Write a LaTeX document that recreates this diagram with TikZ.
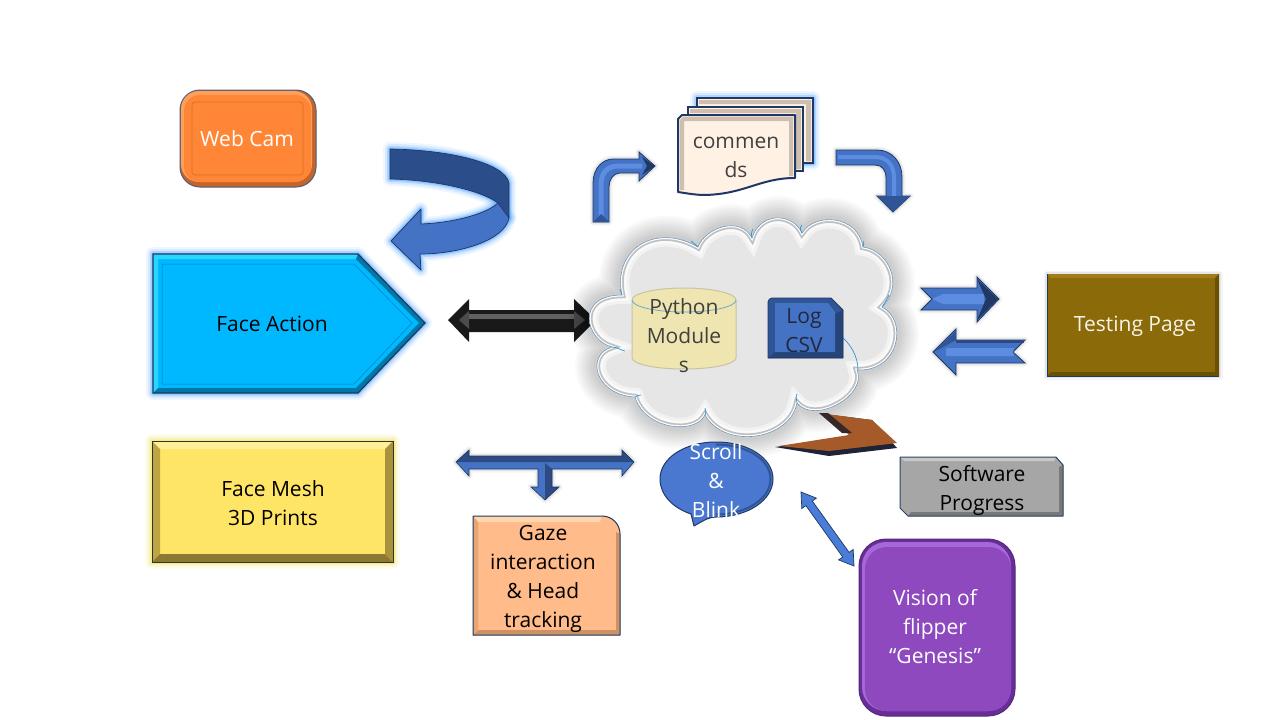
\documentclass[tikz,border=0pt]{standalone}
\usepackage{fontspec}
\setmainfont{Open Sans}
\definecolor{navy}{HTML}{1F3864}
\definecolor{blueA}{HTML}{4472C4}
\definecolor{blueD}{HTML}{2F5597}
\definecolor{blueL}{HTML}{5C8DE0}
\definecolor{ink}{HTML}{404040}
\definecolor{markblue}{HTML}{2E95D8}
\definecolor{camD}{RGB}{196,100,40}\definecolor{camL}{RGB}{255,160,90}\definecolor{camM}{RGB}{255,134,54}\definecolor{camE}{RGB}{215,112,42}
\definecolor{faceM}{RGB}{0,184,255}\definecolor{faceL}{RGB}{40,215,255}\definecolor{faceD}{RGB}{0,120,165}\definecolor{faceE}{RGB}{0,130,180}\definecolor{glowB}{RGB}{90,170,255}
\definecolor{docF}{RGB}{255,242,228}\definecolor{docB}{RGB}{205,190,175}
\definecolor{cloudM}{RGB}{230,230,230}\definecolor{cloudE}{RGB}{110,150,185}
\definecolor{cylF}{RGB}{238,229,176}\definecolor{cylE}{RGB}{200,195,165}
\definecolor{logD}{RGB}{38,68,120}\definecolor{logT}{RGB}{35,40,60}
\definecolor{testM}{RGB}{139,106,10}\definecolor{testL}{RGB}{160,125,25}\definecolor{testD}{RGB}{105,80,5}\definecolor{testT}{RGB}{248,244,230}
\definecolor{meshM}{RGB}{255,229,102}\definecolor{meshL}{RGB}{255,240,150}\definecolor{meshS}{RGB}{190,165,65}\definecolor{meshR}{RGB}{170,145,60}\definecolor{meshB}{RGB}{140,120,50}\definecolor{glowY}{RGB}{240,230,90}
\definecolor{tdark}{RGB}{45,75,130}
\definecolor{gazeM}{RGB}{255,187,138}\definecolor{gazeL}{RGB}{255,215,175}\definecolor{gazeD}{RGB}{205,145,100}\definecolor{gazeS}{RGB}{230,165,115}
\definecolor{bubble}{RGB}{74,120,208}
\definecolor{brownM}{RGB}{166,90,42}\definecolor{brownK}{RGB}{30,35,55}\definecolor{brownE}{RGB}{55,40,40}
\definecolor{softM}{RGB}{166,166,166}\definecolor{softL}{RGB}{200,200,200}\definecolor{softD}{RGB}{120,120,120}\definecolor{softE}{RGB}{45,65,105}
\definecolor{visD}{RGB}{105,45,150}\definecolor{visE}{RGB}{85,40,130}\definecolor{visL}{RGB}{165,105,215}\definecolor{visM}{RGB}{142,73,190}
\definecolor{diagM}{RGB}{74,125,215}
\tikzset{
  glow/.style={preaction={draw=#1,line width=14pt,opacity=.10,line join=round},
               preaction={draw=#1,line width=10pt,opacity=.16,line join=round},
               preaction={draw=#1,line width=6pt,opacity=.30,line join=round},
               preaction={draw=#1,line width=3pt,opacity=.40,line join=round}},
  softshadow/.style={preaction={draw=black,line width=7pt,opacity=.04,line join=round},
               preaction={draw=black,line width=4pt,opacity=.06,line join=round}},
  lbl/.style={inner sep=0pt,align=center,font=\fontsize{21}{29}\selectfont},
  tick/.style={draw=markblue,line width=.7pt},
  arrowblue/.style={fill=blueA,draw=navy,line width=.8pt,line join=miter}
}
\def\cloudpath{(622,295) .. controls (612,250) and (655,222) .. (698,247)
 .. controls (705,228) and (740,215) .. (752,238)
 .. controls (760,212) and (792,212) .. (802,233)
 .. controls (815,212) and (858,215) .. (863,247)
 .. controls (888,250) and (905,285) .. (882,307)
 .. controls (908,320) and (900,372) .. (857,370)
 .. controls (868,395) and (815,425) .. (797,403)
 .. controls (790,440) and (725,450) .. (705,415)
 .. controls (695,435) and (645,430) .. (635,397)
 .. controls (595,395) and (585,355) .. (612,347)
 .. controls (585,340) and (575,295) .. (622,295) -- cycle}
\begin{document}
\begin{tikzpicture}[x=1pt,y=-1pt]
\useasboundingbox (0,0) rectangle (1280,720);
\fill[white] (0,0) rectangle (1280,720);

% Web Cam
\draw[draw=navy!80,line width=1pt,fill=camD,rounded corners=20pt] (180,90) rectangle (316,187);
\fill[camL,rounded corners=18pt] (181,91) rectangle (312,182);
\fill[camM,rounded corners=16pt] (184,95) rectangle (311,182);
\draw[camE,line width=.7pt,rounded corners=3pt] (192,102) rectangle (303,175);
\node[lbl,text=white] (webcam) at (247,139) {Web Cam};

% Face Action
\path[glow=glowB,fill=faceM] (153,254) -- (358,254) -- (425,323) -- (358,393) -- (153,393) -- cycle;
\fill[faceL] (153,254) -- (358,254) -- (356,259) -- (158,259) -- (158,389) -- (153,393) -- cycle;
\fill[faceD] (358,254) -- (425,323) -- (419,323) -- (356,259) -- cycle;
\fill[faceD] (425,323) -- (358,393) -- (153,393) -- (158,388) -- (356,388) -- (419,323) -- cycle;
\draw[navy,line width=1.2pt,line join=miter] (153,254) -- (358,254) -- (425,323) -- (358,393) -- (153,393) -- cycle;
\draw[faceE,line width=.5pt] (162,384) -- (162,264) -- (354,264) -- (412,323) -- (354,384) -- cycle;
\node[lbl,text=black] (faceaction) at (272,324) {Face Action};

% Curved arrow
\path[glow=glowB,fill=blueA] (509,218) .. controls (505,240) and (460,254) .. (420,254) -- (421,270) -- (391,241) -- (421,209) -- (421,224) .. controls (450,223) and (485,215) .. (498,203) -- cycle;
\path[glow=glowB,fill=blueD!92!black] (390,149) .. controls (450,150) and (505,163) .. (509,183) -- (509,218) -- (498,203) .. controls (480,190) and (435,180) .. (390,179) -- cycle;
\fill[blueA] (509,218) .. controls (505,240) and (460,254) .. (420,254) -- (421,270) -- (391,241) -- (421,209) -- (421,224) .. controls (450,223) and (485,215) .. (498,203) -- cycle;
\draw[navy,line width=.7pt,line join=round] (509,218) .. controls (505,240) and (460,254) .. (420,254) -- (421,270) -- (391,241) -- (421,209) -- (421,224) .. controls (450,223) and (485,215) .. (498,203);
\draw[navy,line width=.7pt,line join=round] (498,203) .. controls (480,190) and (435,180) .. (390,179) -- (390,149) .. controls (450,150) and (505,163) .. (509,183) -- (509,218) -- (498,203);

% Double black arrow
\fill[black!90] (448,320) -- (469,299) -- (469,310) -- (574,310) -- (574,299) -- (596,320) -- (574,342) -- (574,332) -- (469,332) -- (469,342) -- cycle;
\fill[black!62] (469,314) rectangle (574,319);
\fill[black!70] (459,320) -- (469,311) -- (469,329) -- cycle;
\fill[black!70] (585,320) -- (574,311) -- (574,329) -- cycle;

% Bent arrow up-right
\path[softshadow,arrowblue] (593,222) -- (593,183) .. controls (593,168) and (603,159) .. (613,159) -- (639,159) -- (639,152) -- (655,166) -- (639,181) -- (639,173) -- (620,173) .. controls (613,173) and (609,180) .. (609,187) -- (609,222) -- cycle;
\draw[blueL,line width=5pt] (601,220) -- (601,185) .. controls (601,172) and (608,166) .. (618,166) -- (642,166);
\fill[blueD] (593,222) -- (601,214) -- (609,222) -- cycle;
\fill[navy] (642,157) -- (655,166) -- (642,175) -- (647,166) -- cycle;

% Documents
\path[glow=glowB,fill=docF,draw=navy,line width=2pt] (697,98) -- (813,98) -- (813,163) -- (697,163) -- cycle;
\fill[docB] (699,100) -- (811,100) -- (806,104) -- (699,104) -- cycle;
\fill[docB] (811,100) -- (811,161) -- (806,161) -- (806,104) -- cycle;
\draw[fill=docF,draw=navy,line width=2pt] (688,107) -- (803,107) -- (803,171) -- (688,171) -- cycle;
\fill[docB] (690,109) -- (801,109) -- (796,113) -- (690,113) -- cycle;
\fill[docB] (801,109) -- (801,169) -- (796,169) -- (796,113) -- cycle;
\draw[fill=docF,draw=navy,line width=2pt,line join=round] (678,119) -- (682,115) -- (795,115) -- (795,178) .. controls (760,178) and (745,194) .. (705,195) .. controls (695,195) and (685,193) .. (678,192) -- cycle;
\fill[docB] (683,117) -- (680,120) -- (680,190) -- (684,190) -- (684,121) -- (793,121) -- (793,117) -- cycle;
\fill[docB] (793,117) -- (793,176) -- (789,176) -- (789,121) -- cycle;
\node[lbl,text=ink] (comments) at (736,157) {commen\\ds};

% Bent arrow right-down
\path[softshadow,arrowblue] (836,150) -- (877,150) .. controls (892,150) and (902,162) .. (902,177) -- (902,196) -- (910,196) -- (893,212) -- (877,196) -- (886,196) -- (886,178) .. controls (886,170) and (882,165) .. (875,165) -- (836,165) -- cycle;
\draw[blueL,line width=4pt] (838,157) -- (875,157) .. controls (888,157) and (894,166) .. (894,178) -- (894,198);
\fill[blueD] (877,196) -- (910,196) -- (893,212) -- cycle;

% Cloud
\foreach \w in {44,40,36,32,28,24,20,16,12,8}{
  \draw[black,line width=\w pt,opacity=.018,line join=round] \cloudpath;
}
\fill[cloudM] \cloudpath;
\begin{scope}
  \clip \cloudpath;
  \draw[black!5,line width=18pt] \cloudpath;
  \draw[white!98!black,line width=12pt] \cloudpath;
  \draw[black!25,line width=6.5pt] \cloudpath;
  \draw[white,line width=3pt] \cloudpath;
\end{scope}
\draw[cloudE,line width=.6pt] \cloudpath;
\draw[tick] (698,247) .. controls (695,244) and (692,242) .. (691,241);
\draw[tick] (752,238) .. controls (751,235) and (751,233) .. (753,229);
\draw[tick] (802,233) .. controls (801,231) and (799,228) .. (802,225);
\draw[tick] (863,247) .. controls (864,245) and (864,243) .. (863,241);
\draw[tick] (882,307) .. controls (885,303) and (887,299) .. (889,295);
\draw[tick] (843,338) .. controls (851,345) and (858,357) .. (858,370);
\draw[tick] (797,403) .. controls (796,400) and (796,396) .. (797,394);
\draw[tick] (705,415) .. controls (707,412) and (705,410) .. (705,408);
\draw[tick] (635,397) .. controls (637,396) and (639,395) .. (641,395);
\draw[tick] (612,347) .. controls (616,347) and (621,350) .. (625,351);
\draw[tick] (622,295) .. controls (621,293) and (621,291) .. (620,289);

% Cylinder
\fill[cylF] (632,300) -- (632,358) arc[start angle=180,end angle=360,x radius=52,y radius=-11] -- (736,300) arc[start angle=0,end angle=180,x radius=52,y radius=-12] -- cycle;
\draw[cylE,line width=1pt] (632,300) -- (632,358) arc[start angle=180,end angle=360,x radius=52,y radius=-11] -- (736,300) arc[start angle=0,end angle=180,x radius=52,y radius=-12];
\draw[markblue!70!cylE,line width=.7pt] (632,300) arc[start angle=180,end angle=360,x radius=52,y radius=-12];
\node[lbl,text=ink] (python) at (684,335.5) {Python\\Module\\s};

% Log CSV
\fill[blueD] (768,302) .. controls (768,300) and (770,298) .. (772,298) -- (831,298) -- (843,310) -- (843,358) -- (768,358) -- cycle;
\fill[logD] (843,310) -- (843,358) -- (768,358) -- (775,352) -- (835,352) -- (835,314) -- cycle;
\fill[blueA] (775,303) -- (828,303) -- (835,312) -- (835,352) -- (775,352) -- cycle;
\draw[navy,line width=.8pt,line join=round] (768,302) .. controls (768,300) and (770,298) .. (772,298) -- (831,298) -- (843,310) -- (843,358) -- (768,358) -- cycle;
\node[lbl,text=logT] (logcsv) at (804,331) {Log\\CSV};

% Right block arrows
\path[softshadow,arrowblue] (921,288) -- (977,288) -- (977,277) -- (999,299) -- (977,322) -- (977,310) -- (921,310) -- (932,299) -- cycle;
\fill[blueL] (932,299) -- (943,294) -- (984,294) -- (984,304) -- (943,304) -- cycle;
\fill[navy] (977,279) -- (998,299) -- (977,320) -- (986,299) -- cycle;
\path[softshadow,arrowblue] (933,352) -- (956,329) -- (956,340) -- (1025,340) -- (1013,352) -- (1025,363) -- (956,363) -- (956,375) -- cycle;
\fill[blueL] (946,348) -- (1014,348) -- (1013,352) -- (1014,356) -- (946,356) -- cycle;
\fill[tdark] (956,340) rectangle (1024,343);
\fill[blueD] (934,352) -- (956,331) -- (956,340) -- cycle;

% Testing Page
\path[softshadow,fill=testM] (1047,274) rectangle (1219,376);
\fill[testL] (1047,274) -- (1219,274) -- (1215,278) -- (1051,278) -- cycle;
\fill[testD] (1219,274) -- (1219,376) -- (1047,376) -- (1051,372) -- (1215,372) -- (1215,278) -- cycle;
\draw[navy,line width=1pt] (1047,274) -- (1047,376) -- (1219,376);
\node[lbl,text=testT] (testing) at (1135,326) {Testing Page};

% Face Mesh
\path[glow=glowY,fill=meshM] (152,441) rectangle (393,562);
\fill[meshL] (152,441) -- (393,441) -- (385,449) -- (160,449) -- cycle;
\fill[meshS] (152,441) -- (160,449) -- (160,554) -- (152,562) -- cycle;
\fill[meshR] (393,441) -- (393,562) -- (385,554) -- (385,449) -- cycle;
\fill[meshB] (152,562) -- (160,554) -- (385,554) -- (393,562) -- cycle;
\draw[black!80,line width=1pt] (152,441) rectangle (393,562);
\node[lbl,text=black] (facemesh) at (273,503) {Face Mesh\\3D Prints};

% T arrow
\path[softshadow,fill=blueA] (456,462) -- (469,450) -- (469,456) -- (622,456) -- (622,450) -- (634,462) -- (622,476) -- (622,469) -- (552,469) -- (552,487) -- (559,487) -- (545,500) -- (531,487) -- (538,487) -- (538,469) -- (469,469) -- (469,476) -- cycle;
\fill[tdark] (456,462) -- (469,450) -- (469,456) -- (622,456) -- (622,450) -- (634,462) -- cycle;
\fill[tdark] (545,463) -- (552,469) -- (552,487) -- (559,487) -- (545,500) -- cycle;
\draw[navy,line width=.6pt,line join=miter] (456,462) -- (469,450) -- (469,456) -- (622,456) -- (622,450) -- (634,462) -- (622,476) -- (622,469) -- (552,469) -- (552,487) -- (559,487) -- (545,500) -- (531,487) -- (538,487) -- (538,469) -- (469,469) -- (469,476) -- cycle;

% Gaze
\fill[gazeM] (473,516) -- (602,516) .. controls (612,516) and (620,524) .. (620,534) -- (620,635) -- (473,635) -- cycle;
\fill[gazeL] (473,516) -- (602,516) -- (600,522) -- (478,522) -- cycle;
\fill[gazeD] (616,532) -- (620,534) -- (620,635) -- (473,635) -- (478,630) -- (616,630) -- cycle;
\fill[gazeS] (473,516) -- (478,522) -- (478,630) -- (473,635) -- cycle;
\draw[navy,line width=1pt,line join=round] (473,516) -- (602,516) .. controls (612,516) and (620,524) .. (620,534) -- (620,635) -- (473,635) -- cycle;
\node[lbl,text=black] (gaze) at (543,579) {Gaze\\interaction\\\& Head\\tracking};

% Scroll & Blink
\path[fill=bubble,draw=navy,line width=1pt,line join=round] (716,442) .. controls (748,442) and (773,458) .. (773,479) .. controls (773,500) and (748,517) .. (716,517) .. controls (710,517) and (706,519) .. (694,526) -- (691,514) .. controls (673,508) and (660,495) .. (660,479) .. controls (660,458) and (685,442) .. (716,442) -- cycle;
\draw[blueD,line width=2pt] (716,444.5) .. controls (746,444.5) and (770.5,459) .. (770.5,479) .. controls (770.5,499) and (746,514.5) .. (716,514.5);
\node[lbl,text=white] (scroll) at (716,480.5) {Scroll\\\&\\Blink};

% Brown zigzag
\fill[brownK] (775,447) -- (845,437) -- (851,433) -- (825,414) -- (872,420) -- (897,448) -- (829,456) -- cycle;
\fill[brownM] (779,446) -- (849,435) -- (825,414) -- (872,420) -- (897,443) -- (829,451) -- cycle;
\fill[brownE] (819,413) -- (828,413) -- (852,433) -- (842,433) -- cycle;

% Software Progress
\fill[softM] (900,457) -- (1056,457) -- (1063,465) -- (1063,516) -- (908,516) -- (900,508) -- cycle;
\fill[softL] (900,457) -- (1056,457) -- (1054,461) -- (904,461) -- cycle;
\fill[softD] (1063,465) -- (1063,516) -- (908,516) -- (911,512) -- (1059,512) -- (1059,467) -- cycle;
\draw[softE,line width=1pt,line join=round] (900,457) -- (1056,457) -- (1063,465) -- (1063,516) -- (908,516) -- (900,508) -- cycle;
\node[lbl,text=black] (software) at (982,490) {Software\\Progress};

% Vision
\draw[fill=visD,draw=visE,line width=1pt,rounded corners=27pt] (859,539) rectangle (1015,716);
\fill[visL,rounded corners=24pt] (862,542) rectangle (1011,711);
\fill[visM,rounded corners=22pt] (865,547) rectangle (1011,711);
\node[lbl,text=white] (vision) at (935,626.5) {Vision of\\flipper\\“Genesis”};

% Diagonal double arrow
\path[fill=diagM,draw=navy,line width=.7pt,line join=miter] (801,492) -- (816.4,498.1) -- (812.3,501) -- (849.1,552.4) -- (853.2,549.5) -- (854,566) -- (838.6,559.9) -- (842.7,557) -- (805.9,505.6) -- (801.8,508.5) -- cycle;
\end{tikzpicture}
\end{document}
